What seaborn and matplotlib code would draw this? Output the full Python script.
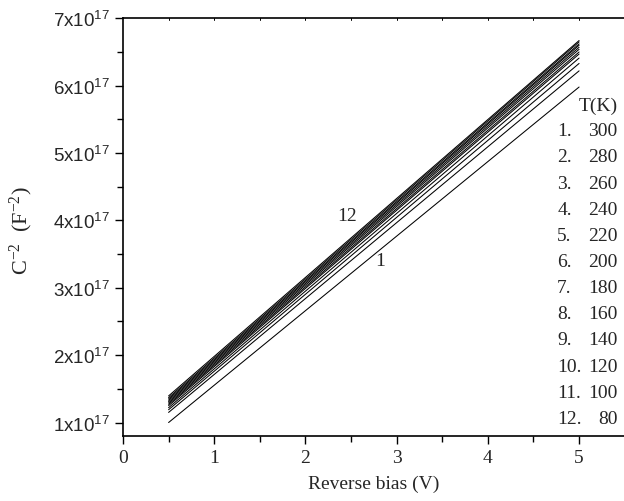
import numpy as np
import pandas as pd
import matplotlib
matplotlib.use("Agg")
import matplotlib.pyplot as plt
import seaborn as sns

# Mott-Schottky C^-2 vs reverse bias, one straight line per temperature
curve_ids = list(range(1, 13))
temperatures = [300, 280, 260, 240, 220, 200, 180, 160, 140, 120, 100, 80]
bias = [0.5, 5.0]
c2_start = [1.00e17, 1.15e17, 1.19e17, 1.22e17, 1.25e17, 1.27e17,
            1.29e17, 1.31e17, 1.33e17, 1.35e17, 1.37e17, 1.395e17]
c2_end = [5.98e17, 6.22e17, 6.33e17, 6.41e17, 6.47e17, 6.50e17,
          6.54e17, 6.57e17, 6.60e17, 6.62e17, 6.65e17, 6.67e17]
y_ticks = [1e17, 2e17, 3e17, 4e17, 5e17, 6e17, 7e17]
y_tick_labels = [f"{k}x10$^{{17}}$" for k in range(1, 8)]

rows = []
for cid, y0, y1 in zip(curve_ids, c2_start, c2_end):
    rows.append({"curve": cid, "V": bias[0], "C2": y0})
    rows.append({"curve": cid, "V": bias[1], "C2": y1})
df = pd.DataFrame(rows)

sns.set_style("ticks")
plt.rcParams["mathtext.default"] = "regular"

fig = plt.figure(figsize=(6.24, 5.02), dpi=100)
ax = fig.add_axes([0.1971, 0.1295, 0.804, 0.832])

sns.lineplot(data=df, x="V", y="C2", hue="curve", units="curve", estimator=None,
             palette=["black"] * len(curve_ids), linewidth=0.75, legend=False, ax=ax)

ax.set_xlim(0, 5.5)
ax.set_ylim(0.8e17, 7e17)
ax.set_xticks([0, 1, 2, 3, 4, 5])
ax.set_xticks(np.arange(0.5, 5.5, 1.0), minor=True)
ax.set_yticks(y_ticks)
ax.set_yticklabels(y_tick_labels)
ax.set_yticks(np.arange(1.5e17, 7e17, 1e17), minor=True)

for lab in ax.get_xticklabels():
    lab.set_fontfamily("Liberation Serif")
    lab.set_fontsize(14)
for lab in ax.get_yticklabels():
    lab.set_fontfamily("Liberation Sans")
    lab.set_fontsize(13.5)

ax.tick_params(axis="both", which="major", direction="out", length=6, width=1.0, color="black")
ax.tick_params(axis="both", which="minor", direction="out", length=4, width=1.0, color="black")

for side in ["left", "bottom", "top"]:
    ax.spines[side].set_linewidth(1.2)
    ax.spines[side].set_color("black")
ax.spines["right"].set_visible(False)

# short marks along the top frame
for xv in np.arange(0.5, 5.5, 0.5):
    ax.plot([xv, xv], [7e17, 6.97e17], color="black", lw=0.7, clip_on=False)

ax.set_xlabel("Reverse bias (V)", fontfamily="Liberation Serif", fontsize=14, labelpad=6)
ax.set_ylabel("")

fig.text(0.034, 0.540, "C$^{-2}$  (F$^{-2}$)", rotation=90, fontfamily="Liberation Serif",
         fontsize=16, ha="center", va="center")

# curve indices
ax.text(2.46, 4.07e17, "12", fontfamily="Liberation Serif", fontsize=14, ha="center", va="center")
ax.text(2.82, 3.40e17, "1", fontfamily="Liberation Serif", fontsize=14, ha="center", va="center")

# temperature key
ax.text(5.42, 5.71e17, "T(K)", fontfamily="Liberation Serif", fontsize=14, ha="right", va="center")
row_y = 5.33e17
for cid, t in zip(curve_ids, temperatures):
    ax.text(4.76, row_y, f"{cid}.", fontfamily="Liberation Serif", fontsize=14, ha="left", va="center")
    ax.text(5.42, row_y, f"{t}", fontfamily="Liberation Serif", fontsize=14, ha="right", va="center")
    row_y -= 0.388e17

fig.savefig("out.png", dpi=100)
